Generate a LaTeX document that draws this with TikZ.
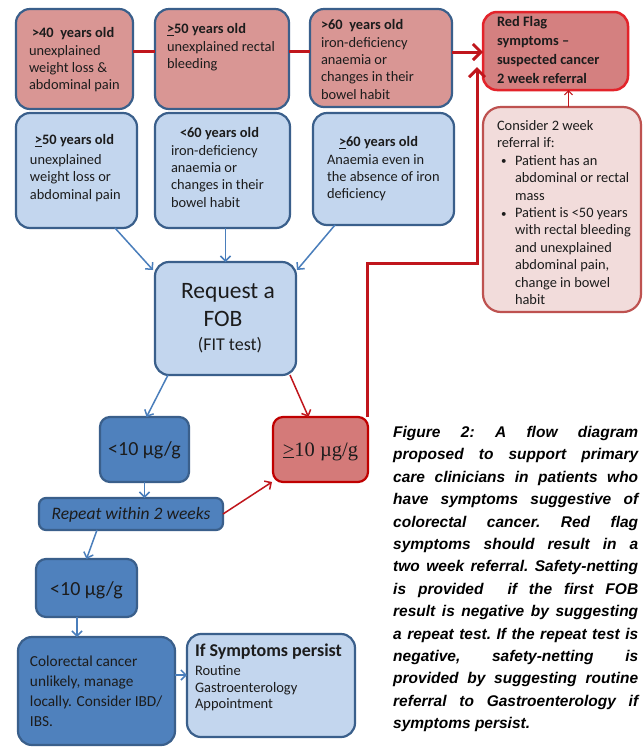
\documentclass[tikz,border=0pt]{standalone}
\usepackage{fontspec}
\setmainfont{Carlito}
\newfontfamily\capfont{Liberation Sans}
\newfontfamily\serifnum{Liberation Serif}
\usetikzlibrary{arrows.meta,fit}
\newcommand{\fsz}[2]{\fontsize{#1}{#2}\selectfont}
\newcommand{\bulitem}{\makebox[18pt][l]{\hspace*{4pt}\raisebox{0.5pt}{\fontsize{11}{11}\selectfont•}}}
\newcommand{\indt}{\hspace*{18pt}}
\definecolor{rose}{HTML}{D99694}
\definecolor{rfFill}{HTML}{D48080}
\definecolor{rfLine}{HTML}{E3232A}
\definecolor{pinkF}{HTML}{F2DCDB}
\definecolor{pinkL}{HTML}{BE5250}
\definecolor{lblue}{HTML}{C3D6EE}
\definecolor{bline}{HTML}{3A5F8B}
\definecolor{dblue}{HTML}{4F81BD}
\definecolor{geqF}{HTML}{D47A79}
\definecolor{geqL}{HTML}{C00000}
\definecolor{arrB}{HTML}{4A7EBB}
\definecolor{arrR}{HTML}{C0161C}
\definecolor{txtc}{HTML}{1C1C1C}
\begin{document}
\begin{tikzpicture}[x=1pt,y=-1pt,
  box/.style={draw=bline, line width=2.2pt, rounded corners=14pt, inner sep=0pt, outer sep=0pt},
  redbox/.style={box, fill=rose},
  bluebox/.style={box, fill=lblue},
  darkbox/.style={box, fill=dblue, rounded corners=10pt},
  rfbox/.style={box, draw=rfLine, fill=rfFill, line width=2.5pt},
  consbox/.style={box, draw=pinkL, fill=pinkF, rounded corners=18pt},
  geqbox/.style={box, draw=geqL, fill=geqF, rounded corners=10pt},
  txt/.style={anchor=north west, inner sep=0pt, outer sep=0pt, align=left, text=txtc, font=\fsz{14.4}{17.4}},
  ctxt/.style={inner sep=0pt, outer sep=0pt, text=txtc},
  barrow/.style={draw=arrB, line width=1.5pt, -{Straight Barb[length=5pt,width=10pt]}},
  rarrow/.style={draw=arrR, line width=1.5pt, -{Straight Barb[length=5pt,width=10pt]}},
  bigred/.style={draw=arrR, line width=3pt, -{Straight Barb[length=8pt,width=16pt]}},
  redline/.style={draw=arrR, line width=3pt}
]
\useasboundingbox (0,0) rectangle (643,748);
\fill[white] (0,0) rectangle (643,748);

% top row (red)
\node[redbox, fit={(16,9) (133,109)}] (a1) {};
\node[redbox, fit={(155,9) (289,109)}] (a2) {};
\node[redbox, fit={(310,9) (452,107)}] (a3) {};
\node[rfbox, fit={(483,12) (628,90)}] (rf) {};

\node[txt] (a1t) at (29,27.5) {\hspace*{3pt}\textbf{>40\ \ years old}\\unexplained\\weight loss \&\\abdominal pain};
\node[txt] (a2t) at (167,23.5) {\textbf{\underline{>}50 years old}\\unexplained rectal\\bleeding};
\node[txt] (a3t) at (321,19.5) {\textbf{>60\ \ years old}\\iron-deficiency\\anaemia or\\changes in their\\bowel habit};
\node[txt, font=\fsz{14.4}{19}\bfseries] (rft) at (497,16.5) {Red Flag\\symptoms –\\suspected cancer\\2 week referral};

% second row (blue)
\node[bluebox, fit={(16,113) (137,228)}] (b1) {};
\node[bluebox, fit={(155,113) (290,228)}] (b2) {};
\node[bluebox, fit={(313,113) (454,225)}] (b3) {};
\node[consbox, fit={(483,107) (641,312)}] (cons) {};

\node[txt] (b1t) at (30,134.5) {\hspace*{5pt}\textbf{\underline{>}50 years old}\\[2.5pt]unexplained\\weight loss or\\abdominal pain};
\node[txt] (b2t) at (171,127.5) {\hspace*{9pt}\textbf{<60 years old}\\iron-deficiency\\anaemia or\\changes in their\\bowel habit};
\node[txt] (b3t) at (327,136.5) {\hspace*{12pt}\textbf{\underline{>}60 years old}\\Anaemia even in\\the absence of iron\\deficiency};
\node[txt] (const) at (497,120.5) {Consider 2 week\\referral if:\\\bulitem Patient has an\\\indt abdominal or rectal\\\indt mass\\\bulitem Patient is <50 years\\\indt with rectal bleeding\\\indt and unexplained\\\indt abdominal pain,\\\indt change in bowel\\\indt habit};

% FOB
\node[bluebox, fit={(155,262) (296,375)}] (fob) {};
\node[ctxt, anchor=base, font=\fsz{23.5}{28}] (fob1) at (228,298) {Request a};
\node[ctxt, anchor=base, font=\fsz{23.5}{28}] (fob2) at (223,326) {FOB};
\node[ctxt, anchor=base, font=\fsz{18}{22}] (fob3) at (230,350) {(FIT test)};

% results
\node[darkbox, fit={(100,417) (189,482)}] (l1) {};
\node[ctxt, anchor=base, font=\fsz{20}{24}] (l1t) at (144.5,455) {<10 µg/g};
\node[geqbox, fit={(273,417) (368,482)}] (geq) {};
\node[ctxt, anchor=base, font=\serifnum\fsz{20.5}{24}] (geqt) at (320.5,456) {\underline{>}10 µg/g};
\node[darkbox, rounded corners=7pt, fit={(39,498) (223,530)}] (rpt) {};
\node[ctxt, anchor=base, font=\fsz{17.5}{20}\itshape] (rptt) at (131,519.5) {Repeat within 2 weeks};
\node[darkbox, fit={(36,559) (137,617)}] (l2) {};
\node[ctxt, anchor=base, font=\fsz{20}{24}] (l2t) at (86.5,595) {<10 µg/g};
\node[darkbox, rounded corners=14pt, fit={(18,637) (175,745)}] (col) {};
\node[txt, font=\fsz{15.3}{20}] (colt) at (30,656) {Colorectal cancer\\unlikely, manage\\locally. Consider IBD/\\IBS.};
\node[bluebox, fit={(187,634) (355,737)}] (sym) {};
\node[txt, font=\fsz{18}{20}\bfseries] (symh) at (195,644) {If Symptoms persist};
\node[txt, font=\fsz{14.5}{16.6}] (symt) at (195,665.5) {Routine\\Gastroenterology\\Appointment};

% caption
\node[anchor=north west, inner sep=0pt, text width=245pt, align=justify, text=black,
      font=\capfont\bfseries\itshape\fsz{15.5}{22.4}\frenchspacing] (cap) at (393,426)
{\noindent Figure 2: A flow diagram\linebreak
proposed to support primary\linebreak
care clinicians in patients who\linebreak
have symptoms suggestive of\linebreak
colorectal cancer. Red flag\linebreak
symptoms should result in a\linebreak
two week referral. Safety-netting\linebreak
is provided \ if the first FOB\linebreak
result is negative by suggesting\linebreak
a repeat test. If the repeat test is\linebreak
negative, safety-netting is\linebreak
provided by suggesting routine\linebreak
referral to Gastroenterology if\linebreak
symptoms persist.};

% connectors
\draw[redline] ([shift={(0,-8)}]a1.east) -- ([shift={(0,-8)}]a1.east -| a2.west);
\draw[redline] ([shift={(0,-8)}]a2.east) -- ([shift={(0,-8)}]a2.east -| a3.west);
\draw[bigred] ([shift={(0,-6)}]a3.east) -- ([shift={(0,-6)}]a3.east -| rf.west);
\draw[rarrow, line width=1.2pt, -{Straight Barb[length=4pt,width=8pt]}] ([xshift=6.5pt]cons.north) -- ([xshift=6.5pt]cons.north |- rf.south);

\draw[barrow] ([xshift=-22pt]b1.south east) -- ([shift={(-2,8)}]fob.north west);
\draw[barrow] (fob.north |- b2.south) -- (fob.north);
\draw[barrow] ([xshift=22pt]b3.south west) -- ([shift={(1,8)}]fob.north east);

\draw[barrow] ([xshift=13pt]fob.south west) -- ([xshift=2pt]l1.north);
\draw[rarrow] ([xshift=-6pt]fob.south east) -- ([xshift=-12pt]geq.north);
\draw[barrow] (l1.south) -- (l1.south |- rpt.north);
\draw[rarrow] (rpt.east) -- ([xshift=-1pt]geq.south west);
\draw[barrow] ([xshift=58pt]rpt.south west) -- (l2.north);
\draw[barrow] ([xshift=-9.5pt]l2.south) -- ([xshift=-9.5pt]l2.south |- col.north);
\draw[barrow] ([shift={(0,-16)}]col.east) -- ([shift={(0,-16)}]col.east -| sym.west);

\coordinate (bend) at (477,263);
\draw[bigred] ([xshift=-1pt]geq.north east) |- (bend) -- ([shift={(-6,16)}]rf.west);
\end{tikzpicture}
\end{document}
